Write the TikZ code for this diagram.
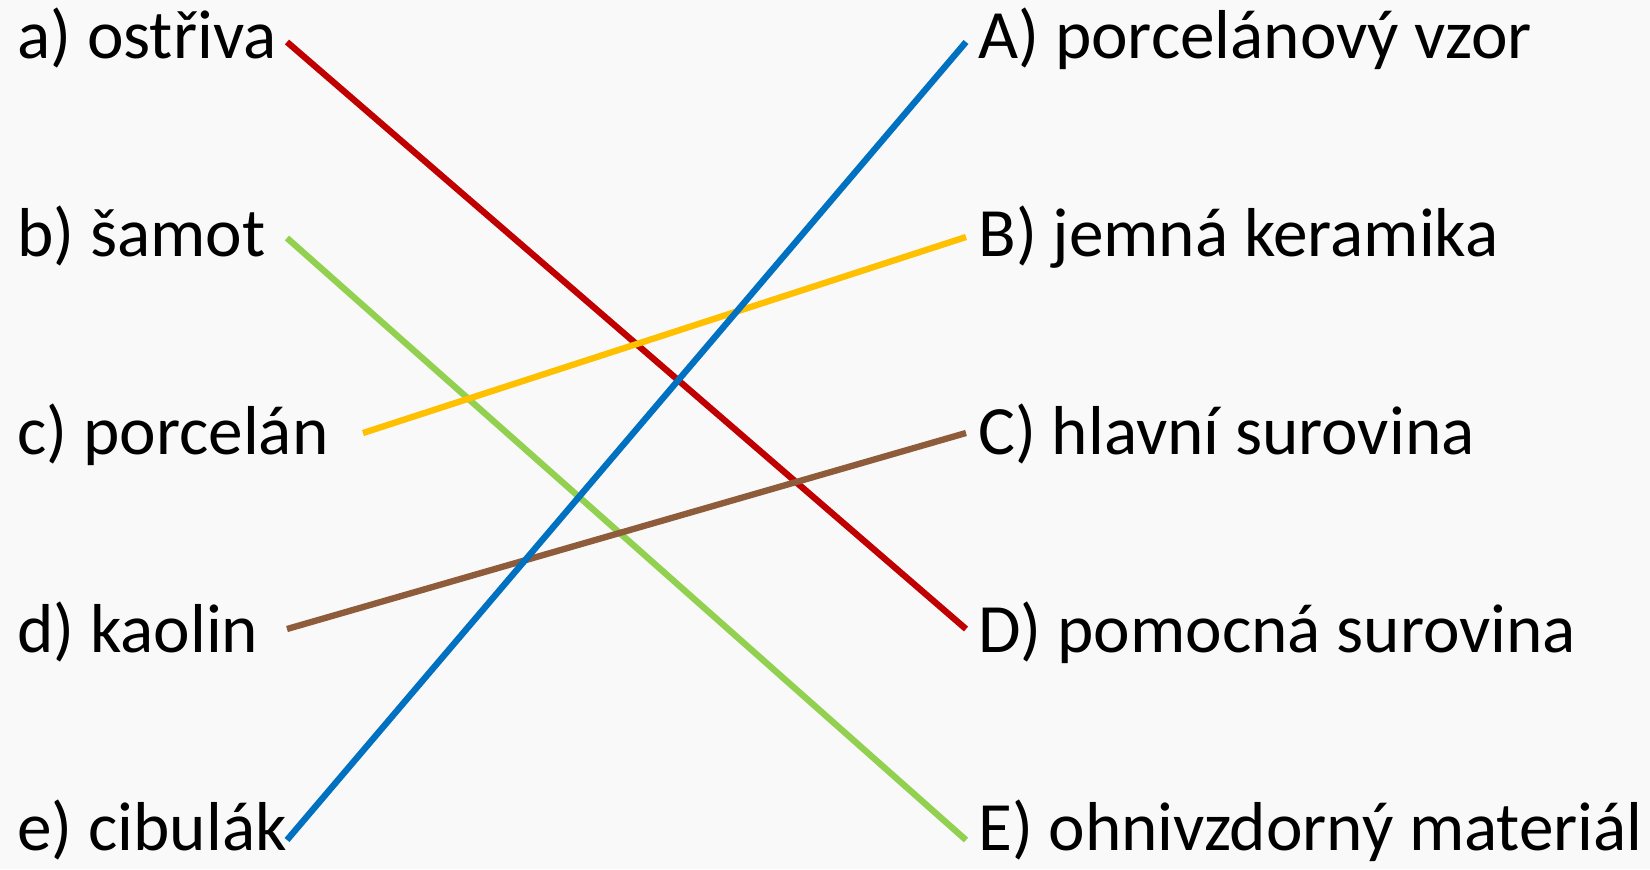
\documentclass[tikz,border=0pt]{standalone}
\usepackage{fontspec}
\setmainfont{Carlito}
\definecolor{Paper}{HTML}{F9F9F9}
\definecolor{Ink}{HTML}{000000}
\definecolor{LinkRed}{HTML}{C00000}
\definecolor{LinkGreen}{HTML}{92D050}
\definecolor{LinkGold}{HTML}{FFC000}
\definecolor{LinkBrown}{HTML}{8E5B3B}
\definecolor{LinkBlue}{HTML}{0070C0}

\begin{document}
\begin{tikzpicture}[x=0.02cm,y=-0.02cm,
  every node/.style={text=Ink,inner sep=0pt,anchor=base west,font=\fontsize{39.4pt}{47pt}\selectfont},
  link/.style={line width=3.6pt}]
  \useasboundingbox (0,0) rectangle (1650,869);
  \fill[Paper] (0,0) rectangle (1650,869);

  % left column: terms
  \foreach \id/\y/\ey/\ex/\txt in {
    a/58/42/287/a) ostřiva,
    b/256/238/287/b) šamot,
    c/454/433/363/c) porcelán,
    d/652/629/287/d) kaolin,
    e/850/840/287/e) cibulák}{
      \node (\id) at (17,\y) {\txt};
      \coordinate (\id-end) at (\ex,\ey);
  }

  % right column: meanings
  \foreach \id/\y/\ey/\txt in {
    A/58/42/A) porcelánový vzor,
    B/256/237/B) jemná keramika,
    C/454/433/C) hlavní surovina,
    D/652/629/D) pomocná surovina,
    E/850/840/E) ohnivzdorný materiál}{
      \node (\id) at (978,\y) {\txt};
      \coordinate (\id-end) at (966,\ey);
  }

  \draw[link,LinkRed] (a-end) -- (D-end);
  \draw[link,LinkGreen] (b-end) -- (E-end);
  \draw[link,LinkGold] (c-end) -- (B-end);
  \draw[link,LinkBrown] (d-end) -- (C-end);
  \draw[link,LinkBlue] (e-end) -- (A-end);
\end{tikzpicture}
\end{document}
